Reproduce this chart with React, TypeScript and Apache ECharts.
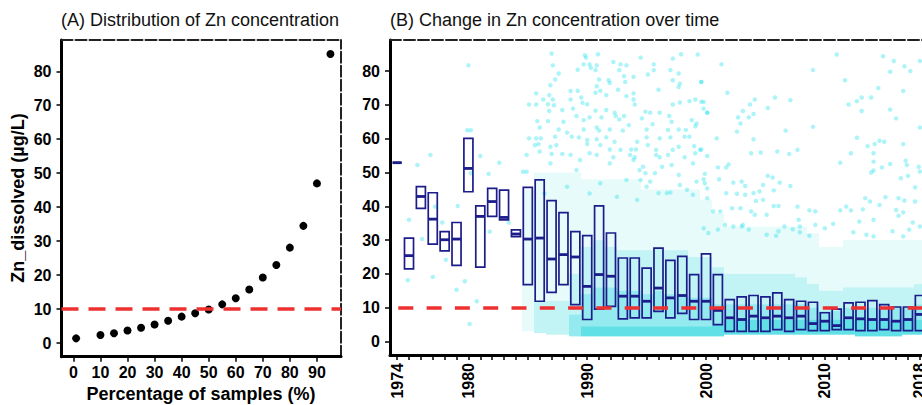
import React, { useEffect, useRef } from "react";
import * as echarts from "echarts";

// ---------- Panel A data ----------
const percentOfSamples = [1, 10, 15, 20, 25, 30, 35, 40, 45, 50, 55, 60, 65, 70, 75, 80, 85, 90, 95];
const zincAtPercent = [1.4, 2.4, 2.9, 3.7, 4.5, 5.5, 6.6, 7.8, 8.8, 9.9, 11.4, 13.2, 15.8, 19.3, 23.0, 28.1, 34.5, 47.0, 85.1];
const guideline = 10;
const zincTicks = [0, 10, 20, 30, 40, 50, 60, 70, 80];
const percentTicks = [0, 10, 20, 30, 40, 50, 60, 70, 80, 90];

// ---------- Panel B data ----------
const boxYears = [1974, 1975, 1976, 1977, 1978, 1979, 1980, 1981, 1982, 1983, 1984, 1985, 1986, 1987, 1988, 1989, 1990, 1991, 1992, 1993, 1994, 1995, 1996, 1997, 1998, 1999, 2000, 2001, 2002, 2003, 2004, 2005, 2006, 2007, 2008, 2009, 2010, 2011, 2012, 2013, 2014, 2015, 2016, 2017, 2018];
const boxQ1 = [52.9, 21.5, 39.4, 28.8, 26.8, 22.5, 44.3, 22.0, 37.0, 36.0, 31.0, 16.8, 11.9, 14.5, 16.8, 10.9, 6.5, 9.6, 10.4, 6.7, 7.0, 7.0, 8.9, 7.0, 8.3, 6.5, 6.5, 5.0, 3.0, 3.0, 3.0, 3.0, 3.5, 3.0, 3.5, 3.2, 3.2, 3.5, 3.5, 3.2, 3.2, 3.5, 3.2, 3.2, 3.2];
const boxMedian = [52.9, 25.4, 42.9, 36.2, 30.1, 30.3, 51.2, 37.0, 41.4, 36.7, 31.8, 30.3, 30.6, 24.4, 25.7, 25.0, 16.3, 19.8, 19.3, 13.4, 13.4, 11.9, 15.8, 12.9, 13.6, 11.9, 11.9, 9.2, 7.0, 6.5, 7.5, 7.0, 7.5, 7.0, 7.5, 5.3, 6.0, 4.7, 7.0, 6.7, 6.5, 6.5, 6.0, 6.5, 8.0];
const boxQ3 = [52.9, 30.6, 45.8, 44.0, 32.5, 35.2, 60.1, 40.1, 45.3, 44.8, 33.0, 45.6, 47.8, 41.7, 38.1, 32.5, 31.3, 40.1, 32.1, 24.7, 24.7, 21.7, 27.6, 24.0, 25.2, 19.8, 25.9, 19.8, 12.4, 13.2, 13.6, 13.2, 14.4, 12.4, 11.9, 11.6, 8.5, 9.6, 11.4, 11.6, 12.1, 10.9, 10.2, 10.2, 13.6];

// density of the sample cloud per year: value ranges of decreasing point density
const cloudYears = [1985, 1986, 1987, 1988, 1989, 1990, 1991, 1992, 1993, 1994, 1995, 1996, 1997, 1998, 1999, 2000, 2001, 2002, 2003, 2004, 2005, 2006, 2007, 2008, 2009, 2010, 2011, 2012, 2013, 2014, 2015, 2016, 2017, 2018];
const cloudLow = [3, 2.5, 2, 2, 1.5, 1.5, 1.5, 1.5, 1.5, 1.5, 1.5, 1.5, 1.5, 1.5, 1.5, 1.5, 1.5, 2, 2, 2, 2, 2, 2, 2, 2, 2, 2, 2, 1.5, 1.5, 1.5, 1.5, 2, 2];
const cloudCoreTop = [3, 2.5, 2, 2, 1.5, 4.5, 4.5, 4.5, 4.5, 4.5, 4.5, 4.5, 4.5, 4.5, 4.5, 4.5, 5, 6.5, 6.5, 6.5, 6.5, 6.5, 6.5, 6.5, 6.5, 6.5, 6.5, 6.5, 6.5, 6.5, 6.5, 6.5, 6.5, 6.5];
const cloudDenseTop = [3, 2.5, 2, 2, 8, 14, 16, 16, 15, 15, 14, 15, 14, 14, 13, 13, 11, 11, 11, 11, 11, 11, 11, 11, 10, 9, 9, 10, 10, 10, 10, 10, 10, 11];
const cloudMidTop = [3, 12, 12, 12, 20, 28, 30, 28, 27, 27, 27, 28, 27, 27, 25, 25, 22, 20, 20, 20, 20, 20, 20, 19, 17, 15, 15, 16, 16, 16, 16, 16, 16, 17];
const cloudHazeTop = [45, 50, 50, 50, 50, 48, 48, 48, 48, 48, 45, 45, 45, 45, 45, 42, 38, 34, 34, 34, 34, 34, 34, 34, 32, 28, 28, 30, 30, 30, 30, 30, 30, 30];

// individual scattered samples [year, µg/L]
const scatteredSamples: [number, number][] = [
  [1975.0, 36.0], [1974.9, 18.1], [1975.7, 52.2], [1976.8, 55.2], [1976.1, 30.3], [1977.0, 19.1], [1977.2, 39.9], [1977.8, 35.2], [1978.1, 24.2], [1979.1, 40.1], [1979.7, 17.8], [1979.0, 15.3], [1980.7, 11.9], [1980.1, 5.2], [1980.0, 81.7], [1979.9, 62.5], [1980.2, 62.5], [1980.2, 49.8], [1981.0, 54.9], [1981.7, 49.6], [1981.8, 32.5], [1982.6, 52.9], [1983.4, 35.2], [1984.6, 50.2], [1984.9, 55.2],
  [1987.0, 85.2], [1989.8, 84.7], [1990.9, 85.0], [1989.9, 84.0], [1987.1, 81.7], [1989.7, 82.0], [1990.2, 82.0], [1990.8, 81.7], [1992.2, 82.7], [1992.8, 82.0], [1993.3, 81.7], [1994.5, 84.0], [1995.6, 82.0], [1997.2, 83.7], [1997.9, 85.0], [1999.3, 84.9], [1987.6, 79.3], [1989.2, 80.4], [1990.3, 81.0], [1990.7, 80.3], [1992.7, 80.3], [1995.6, 80.3], [1997.0, 80.3], [1997.7, 79.3], [1995.1, 79.0], [1987.3, 77.5], [1991.0, 77.5], [1991.8, 77.3], [1993.1, 78.5], [1993.9, 78.3], [1997.2, 77.3], [1997.8, 76.3], [1999.6, 76.8], [1986.9, 75.8], [1990.8, 75.5], [1991.9, 76.5], [1993.2, 76.8], [1992.6, 74.5], [1989.2, 74.2], [1988.6, 74.1], [1990.7, 73.6], [1991.1, 74.2], [1993.9, 73.4], [1996.0, 74.5], [1997.7, 75.3], [1985.7, 73.4], [1986.8, 72.9], [1986.3, 71.6], [1987.1, 71.6], [1988.6, 71.6], [1989.5, 72.2], [1991.6, 72.9], [1993.3, 72.6], [1993.9, 71.6], [1985.1, 70.1], [1985.7, 70.1], [1986.7, 70.2], [1987.2, 69.9], [1989.6, 70.6], [1990.0, 70.2], [1994.0, 70.1], [1997.2, 70.1], [1997.8, 70.7], [1998.6, 71.1], [1999.1, 71.6], [1999.6, 70.9], [1986.8, 68.2], [1987.9, 68.5], [1988.8, 68.9], [1990.7, 68.3], [1991.6, 68.5], [1992.3, 67.7], [1994.9, 68.0], [1995.3, 67.7], [1996.1, 67.7], [1999.8, 68.9], [2000.1, 67.7], [1985.8, 65.2], [1986.7, 65.2], [1988.0, 65.0], [1989.1, 66.7], [1989.7, 65.5], [1990.2, 66.3], [1991.2, 66.3], [1992.4, 66.7], [1992.7, 65.7], [1993.1, 66.7], [1994.6, 66.0], [1996.9, 66.7], [1997.1, 65.0], [1998.8, 65.5], [1999.2, 64.5], [1986.0, 63.3], [1987.6, 62.7], [1988.3, 61.8], [1989.7, 62.7], [1990.8, 63.3], [1991.0, 62.4], [1991.9, 62.7], [1993.0, 62.4], [1993.5, 64.0], [1995.0, 62.7], [1995.5, 64.3], [1996.8, 62.6], [1997.7, 62.7], [1998.3, 62.6], [1999.1, 63.7], [1985.1, 60.1], [1985.7, 60.1], [1986.1, 60.1], [1987.3, 60.6], [1988.7, 60.6], [1989.3, 60.4], [1990.0, 59.6], [1990.8, 59.8], [1991.6, 60.4], [1992.3, 59.1], [1994.2, 59.1], [1995.0, 60.4], [1996.1, 60.1], [1997.0, 60.4], [1998.2, 60.6], [1998.6, 60.6], [1985.6, 58.1], [1985.9, 58.4], [1986.9, 57.6], [1987.4, 58.1], [1990.0, 58.4], [1991.1, 58.1], [1991.9, 56.8], [1992.8, 56.7], [1993.7, 56.8], [1994.1, 56.8], [1995.1, 58.1], [1995.8, 56.7], [1997.2, 56.7], [1997.7, 57.6], [1999.0, 57.8], [1999.6, 56.8], [1986.0, 56.2], [1987.0, 55.5], [1987.9, 55.5], [1988.6, 55.2], [1990.2, 55.7], [1990.8, 55.2], [1992.2, 54.5], [1993.6, 55.2], [1994.0, 54.5], [1995.8, 55.2], [1996.1, 54.5], [1996.8, 55.2], [1998.2, 54.5], [1999.1, 55.7],
  [1986.9, 52.7], [1989.4, 53.7], [1991.9, 52.7], [1993.9, 53.7], [1994.4, 50.7], [1993.3, 47.8], [1991.1, 46.8], [1990.2, 43.8], [1992.5, 42.8], [1994.2, 41.9], [1995.0, 45.8], [1989.1, 50.7], [1988.3, 45.8], [1986.4, 43.8], [1984.9, 50.2],
  [1994.7, 51.7], [1994.9, 49.8], [1995.7, 49.8], [1997.1, 52.2], [1997.7, 49.3], [1998.9, 52.7], [1999.2, 47.3], [1999.9, 46.8], [1995.3, 47.3], [1996.0, 43.9], [1996.7, 43.9], [1997.0, 44.1], [1998.4, 44.9], [1998.9, 43.4], [1997.8, 46.3], [1996.3, 51.7], [1994.5, 47.8],
  [2001.3, 82.0], [2011.0, 84.9], [2014.9, 84.4], [2015.8, 83.0], [2016.7, 81.4], [2017.2, 80.0], [2015.5, 79.8], [1999.6, 76.8], [2011.7, 77.3], [2001.8, 73.6], [2009.0, 80.3], [2014.5, 75.0], [2016.6, 74.1], [2018.0, 83.0], [1999.8, 70.9], [2000.1, 67.7], [2004.1, 71.6], [2003.7, 70.1], [2005.8, 72.2], [2007.1, 71.4], [2005.2, 69.1], [2003.1, 68.2], [2004.0, 67.3], [2003.6, 66.3], [2002.7, 66.3], [2002.9, 64.5], [2012.7, 71.1], [2013.1, 72.2], [2013.9, 72.2], [2012.0, 70.1], [2013.1, 68.2], [2015.5, 68.6], [2016.0, 66.0], [2006.7, 62.4], [2002.6, 62.1], [2000.9, 60.1], [2004.0, 59.8], [2009.0, 63.5], [2012.7, 60.3], [2013.6, 57.8], [2014.2, 58.4], [2014.6, 59.4], [2015.0, 59.1], [2016.6, 58.4], [2018.0, 63.3], [1999.5, 56.7], [2000.1, 54.9], [2003.8, 55.7], [2004.6, 55.9], [2006.0, 56.2], [2007.0, 55.5], [2007.7, 56.7], [2011.3, 52.9], [2012.2, 55.7], [2014.1, 55.7], [2014.1, 53.2], [2014.8, 51.5], [2014.1, 50.6], [2016.8, 53.5], [2016.9, 52.2], [2017.9, 51.7], [2015.5, 52.5], [2013.9, 50.0], [2016.4, 48.3], [2017.0, 49.0], [2017.6, 45.6], [2018.0, 50.3], [2001.0, 51.5], [2001.7, 51.5], [2001.9, 52.4], [1999.9, 49.6], [1999.8, 48.0], [2001.1, 48.0], [2000.1, 45.3], [2002.3, 47.0], [2003.0, 47.3], [2003.3, 46.0], [2004.8, 46.3], [2005.2, 49.0], [2005.6, 48.5], [2006.2, 47.0], [2005.7, 44.7], [2007.1, 46.0], [2001.7, 43.9], [2002.6, 43.7], [2003.3, 43.4], [2004.0, 43.9], [2004.5, 44.4], [2000.1, 42.4], [2000.6, 38.5], [2001.2, 38.5], [2002.2, 39.4], [2002.9, 39.4], [2003.8, 38.5], [2004.2, 41.6], [2004.8, 41.9], [2005.1, 37.5], [2005.7, 40.1], [2006.1, 40.1], [2004.1, 37.5], [2007.7, 39.9], [2008.7, 38.8], [2009.2, 38.5], [2011.3, 38.8], [2011.8, 39.9], [2012.2, 38.8], [2013.2, 39.1], [2013.4, 42.4], [2013.8, 41.4], [2014.6, 40.4], [2015.1, 42.7], [2016.2, 42.4], [2016.7, 41.7], [2017.6, 41.4], [2016.0, 38.9], [2016.2, 37.2], [2014.1, 36.0], [2012.9, 35.5], [2007.8, 36.0], [2007.9, 34.0], [2006.1, 32.6], [2006.6, 34.0], [2007.3, 33.2], [2009.2, 34.5], [2010.0, 33.5], [2010.7, 34.8], [2003.0, 34.0], [2003.1, 34.5], [2003.6, 33.1], [2001.6, 34.5], [2002.3, 34.0], [2001.0, 33.1], [1999.8, 33.5], [2000.2, 32.1], [2012.4, 32.3], [2013.5, 31.6], [2014.1, 31.1], [2015.7, 32.6], [2016.6, 31.1], [2017.1, 33.1], [2018.0, 34.0], [2005.1, 31.6], [2005.9, 31.3], [2007.9, 32.3], [2008.7, 31.3], [2016.6, 38.2], [2017.4, 35.2]
];

const yearTicks = [1974, 1975, 1976, 1977, 1978, 1979, 1980, 1981, 1982, 1983, 1984, 1985, 1986, 1987, 1988, 1989, 1990, 1991, 1992, 1993, 1994, 1995, 1996, 1997, 1998, 1999, 2000, 2001, 2002, 2003, 2004, 2005, 2006, 2007, 2008, 2009, 2010, 2011, 2012, 2013, 2014, 2015, 2016, 2017, 2018];
const yearLabels = [1974, 1980, 1990, 2000, 2010, 2018];

const FONT = "'Liberation Sans', Arial, sans-serif";
const BOX_COLOR = "#1c1c8a";
const RED = "#ee3030";
const CLOUD = "0,206,215";

function buildOption() {
  const axisLine = { show: true, onZero: false, lineStyle: { color: "#000", width: 3 } };
  const dashedBorder = { show: true, onZero: false, lineStyle: { color: "#222", width: 2, type: [11, 3] } };
  const tick = (vals: number[]) => ({ show: true, length: 5, customValues: vals, lineStyle: { color: "#000", width: 1.5 } });
  const label = (vals: number[], extra: any = {}) => ({
    show: true, customValues: vals, color: "#000", fontSize: 16, fontWeight: "bold", fontFamily: FONT,
    formatter: (v: number) => String(v), ...extra,
  });
  const hidden = { axisTick: { show: false }, axisLabel: { show: false }, splitLine: { show: false } };

  const boxData = boxYears.map((y, i) => [y, boxQ1[i], boxMedian[i], boxQ3[i]]);
  const cloudData = cloudYears.map((y, i) => [y, cloudLow[i], cloudCoreTop[i], cloudDenseTop[i], cloudMidTop[i], cloudHazeTop[i]]);

  return {
    animation: false,
    backgroundColor: "#fff",
    grid: [
      { left: 61.5, top: 40, width: 279.5, height: 316.7, outerBoundsMode: "none" },
      { left: 390, top: 40, width: 537, height: 315, outerBoundsMode: "none" },
    ],
    xAxis: [
      { gridIndex: 0, type: "value", min: -4.4, max: 98.9, position: "bottom", axisLine, axisTick: tick(percentTicks), axisLabel: label(percentTicks, { margin: 8 }), splitLine: { show: false } },
      { gridIndex: 0, type: "value", min: -4.4, max: 98.9, position: "top", axisLine: dashedBorder, ...hidden },
      { gridIndex: 1, type: "value", min: 1973.4, max: 2018.6, position: "bottom", axisLine, axisTick: tick(yearTicks), axisLabel: label(yearLabels, { rotate: 90, margin: 8 }), splitLine: { show: false } },
      { gridIndex: 1, type: "value", min: 1973.4, max: 2018.6, position: "top", axisLine: dashedBorder, ...hidden },
    ],
    yAxis: [
      { gridIndex: 0, type: "value", min: -4, max: 89.2, position: "left", axisLine, axisTick: tick(zincTicks), axisLabel: label(zincTicks, { margin: 10 }), splitLine: { show: false } },
      { gridIndex: 0, type: "value", min: -4, max: 89.2, position: "right", axisLine: dashedBorder, ...hidden },
      { gridIndex: 1, type: "value", min: -4, max: 89.2, position: "left", axisLine, axisTick: tick(zincTicks), axisLabel: label(zincTicks, { margin: 10 }), splitLine: { show: false } },
      { gridIndex: 1, type: "value", min: -4, max: 89.2, position: "right", axisLine: dashedBorder, ...hidden },
    ],
    graphic: [
      { type: "text", x: 61, y: 20, style: { text: "(A) Distribution of Zn concentration", fill: "#111", font: `18px ${FONT}`, textVerticalAlign: "middle" } },
      { type: "text", x: 390, y: 20, style: { text: "(B) Change in Zn concentration over time", fill: "#111", font: `18px ${FONT}`, textVerticalAlign: "middle" } },
      { type: "text", x: 18, y: 198, rotation: Math.PI / 2, style: { text: "Zn_dissolved (µg/L)", fill: "#000", font: `bold 18px ${FONT}`, textAlign: "center", textVerticalAlign: "middle" } },
      { type: "text", x: 201, y: 394, style: { text: "Percentage of samples (%)", fill: "#000", font: `bold 18px ${FONT}`, textAlign: "center", textVerticalAlign: "middle" } },
    ],
    series: [
      // Panel A
      {
        type: "line", xAxisIndex: 0, yAxisIndex: 0, data: [], z: 1, silent: true,
        markLine: { symbol: ["none", "none"], silent: true, label: { show: false }, data: [{ yAxis: guideline }], lineStyle: { color: RED, width: 3.5, type: [17, 10] } },
      },
      {
        type: "scatter", xAxisIndex: 0, yAxisIndex: 0, z: 2, symbolSize: 8,
        itemStyle: { color: "#000", opacity: 1 },
        data: percentOfSamples.map((p, i) => [p, zincAtPercent[i]]),
      },
      // Panel B: density of the sample cloud
      {
        type: "custom", xAxisIndex: 2, yAxisIndex: 2, z: 1, silent: true,
        encode: { x: 0, y: [1, 2, 3, 4, 5] },
        data: cloudData,
        renderItem: (params: any, api: any) => {
          const yr = api.value(0);
          const left = Math.round(api.coord([yr - 0.5, 0])[0]);
          const right = Math.round(api.coord([yr + 0.5, 0])[0]);
          const band = (lo: number, hi: number, alpha: number) => {
            const yTop = api.coord([yr, hi])[1];
            const yBot = api.coord([yr, lo])[1];
            return { type: "rect", shape: { x: left, y: yTop, width: right - left, height: Math.max(0, yBot - yTop) }, style: { fill: `rgba(${CLOUD},${alpha})` } };
          };
          return {
            type: "group",
            children: [
              band(api.value(1), api.value(2), 0.62),
              band(api.value(2), api.value(3), 0.42),
              band(api.value(3), api.value(4), 0.24),
              band(api.value(4), api.value(5), 0.09),
            ],
          };
        },
      },
      {
        type: "scatter", xAxisIndex: 2, yAxisIndex: 2, z: 2, symbolSize: 4.5, silent: true,
        itemStyle: { color: `rgba(0,220,232,0.32)`, opacity: 1 },
        data: scatteredSamples,
      },
      {
        type: "custom", xAxisIndex: 2, yAxisIndex: 2, z: 3,
        encode: { x: 0, y: [1, 2, 3] },
        data: boxData,
        renderItem: (params: any, api: any) => {
          const yr = api.value(0);
          const lo = api.coord([yr - 0.38, api.value(1)]);
          const hi = api.coord([yr + 0.38, api.value(3)]);
          const md = api.coord([yr, api.value(2)]);
          return {
            type: "group",
            children: [
              { type: "rect", shape: { x: lo[0], y: hi[1], width: hi[0] - lo[0], height: lo[1] - hi[1] }, style: { fill: "none", stroke: BOX_COLOR, lineWidth: 1.7 } },
              { type: "line", shape: { x1: lo[0], y1: md[1], x2: hi[0], y2: md[1] }, style: { stroke: BOX_COLOR, lineWidth: 2.8 } },
            ],
          };
        },
      },
      {
        type: "line", xAxisIndex: 2, yAxisIndex: 2, data: [], z: 4, silent: true,
        markLine: { symbol: ["none", "none"], silent: true, label: { show: false }, data: [{ yAxis: guideline }], lineStyle: { color: RED, width: 3.5, type: [15, 13.3], dashOffset: 20.3 } },
      },
    ],
  };
}

export default function App() {
  const ref = useRef<HTMLDivElement>(null);
  useEffect(() => {
    if (!ref.current) return;
    const chart = echarts.init(ref.current, undefined, { renderer: "svg" });
    chart.setOption(buildOption() as any);
    return () => chart.dispose();
  }, []);
  return (
    <div style={{ position: "fixed", left: 0, top: 0, width: 922, height: 405, overflow: "hidden", background: "#fff" }}>
      <div ref={ref} style={{ width: 930, height: 405 }} />
    </div>
  );
}
